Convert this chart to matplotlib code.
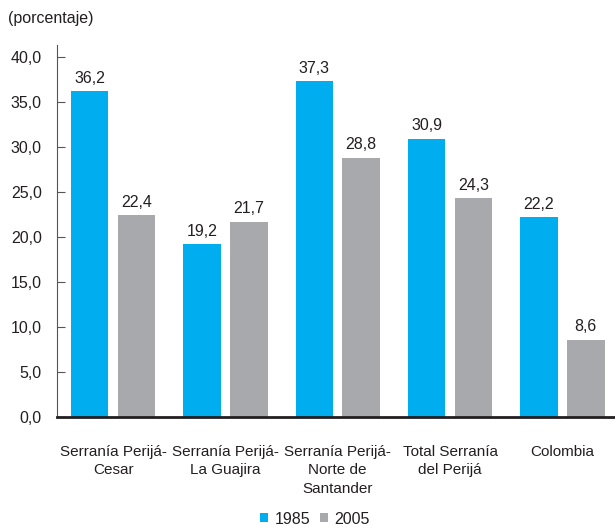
import matplotlib.pyplot as plt
import numpy as np

plt.rcParams['font.family'] = ['Liberation Sans', 'DejaVu Sans']

categories = ["Serranía Perijá-\nCesar", "Serranía Perijá-\nLa Guajira",
              "Serranía Perijá-\nNorte de\nSantander", "Total Serranía\ndel Perijá",
              "Colombia"]
v1985 = [36.2, 19.2, 37.3, 30.9, 22.2]
v2005 = [22.4, 21.7, 28.8, 24.3, 8.6]
series = ["1985", "2005"]
colors = ["#00AEEF", "#A7A9AC"]

fig = plt.figure(figsize=(6.15, 5.27), dpi=100)
ax = fig.add_axes([57/615, 1 - 417/527, 557/615, 372/527])

x = np.arange(len(categories))
w = 0.334
off = 0.209
for vals, dx, c, lab in zip([v1985, v2005], [-off, off], colors, series):
    bars = ax.bar(x + dx, vals, width=w, color=c, label=lab)
    for b, v in zip(bars, vals):
        ax.text(b.get_x() + b.get_width()/2, v + 0.6, f"{v:.1f}".replace(".", ","),
                ha='center', va='bottom', fontsize=11.5, color='#231F20')

ax.set_xlim(-0.5, 4.46)
ax.set_ylim(0, 41.3)
yt = np.arange(0, 45, 5)
ax.set_yticks(yt)
ax.set_yticklabels([f"{t:.1f}".replace(".", ",") for t in yt], fontsize=11.5, color='#231F20')
ax.tick_params(axis='y', direction='in', length=6, width=0.8, color='#555555', pad=11)
ax.set_xticks(x)
ax.set_xticklabels(categories, fontsize=11, color='#231F20', linespacing=1.4)
ax.tick_params(axis='x', length=0, pad=20)
for s in ['top', 'right']:
    ax.spines[s].set_visible(False)
ax.spines['left'].set_color('#555555')
ax.spines['left'].set_linewidth(0.8)
ax.spines['bottom'].set_color('#231F20')
ax.spines['bottom'].set_linewidth(2)

fig.text(8/615, 1 - 19/527, "(porcentaje)", fontsize=11.5, color='#231F20', va='center')

leg = fig.legend(loc='center', bbox_to_anchor=(315/615, 1 - 519/527), ncol=2, frameon=False,
                 fontsize=11.5, handlelength=0.5, handleheight=0.5, handletextpad=0.4,
                 columnspacing=0.6)
for t in leg.get_texts():
    t.set_color('#231F20')

fig.savefig("out.png", dpi=100)
